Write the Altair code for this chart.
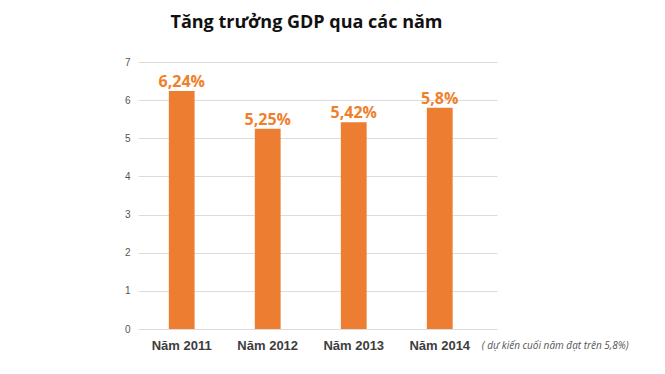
import altair as alt
import pandas as pd

years = ["Năm 2011", "Năm 2012", "Năm 2013", "Năm 2014"]
growth = [6.24, 5.25, 5.42, 5.8]
labels = ["6,24%", "5,25%", "5,42%", "5,8%"]
note = "( dự kiến cuối năm đạt trên 5,8%)"
y_ticks = [0, 1, 2, 3, 4, 5, 6, 7]

df = pd.DataFrame({"year": years, "growth": growth, "label": labels})

W, H = 359, 267

x = alt.X("year:N", sort=years, title=None,
          scale=alt.Scale(paddingInner=0.7, paddingOuter=0.437, align=0.41),
          axis=alt.Axis(labelAngle=0, domain=False, ticks=False, labelFont="Liberation Sans",
                        labelFontWeight="bold", labelFontSize=13, labelColor="#3d3d3d",
                        labelPadding=10))
y = alt.Y("growth:Q", title=None,
          scale=alt.Scale(domain=[0, 7], nice=False),
          axis=alt.Axis(values=y_ticks, tickCount=8, labelOverlap=False, domain=False,
                        ticks=False, labelFont="Liberation Sans",
                        labelFontSize=10, labelColor="#555555", labelPadding=8,
                        gridColor="#dcdcdc", gridWidth=1))

base = alt.Chart(df).encode(x=x, y=y)

bars = base.mark_bar(color="#ED7D31")

text = base.mark_text(color="#F07F2C", font="Open Sans", fontWeight="bold",
                      fontSize=16, baseline="bottom", dy=-1).encode(text="label:N")

note_df = pd.DataFrame({"year": ["Năm 2014"], "note": [note]})
note_layer = alt.Chart(note_df).mark_text(font="Open Sans", fontStyle="italic", fontSize=10,
                                          color="#555555", align="left", baseline="middle",
                                          dx=42).encode(
    x=x, y=alt.value(H + 17), text="note:N")

chart = alt.layer(bars, text, note_layer).properties(
    width=W, height=H,
    title=alt.TitleParams("Tăng trưởng GDP qua các năm", font="Open Sans", fontSize=18,
                          fontWeight="bold", color="#111111", anchor="middle", dx=-11,
                          offset=25),
    autosize=alt.AutoSizeParams(type="none"),
    padding={"left": 130, "top": 54, "right": 160, "bottom": 40},
).configure_view(stroke=None)

chart.save("out.html", embed_options={"renderer": "svg", "actions": False})
